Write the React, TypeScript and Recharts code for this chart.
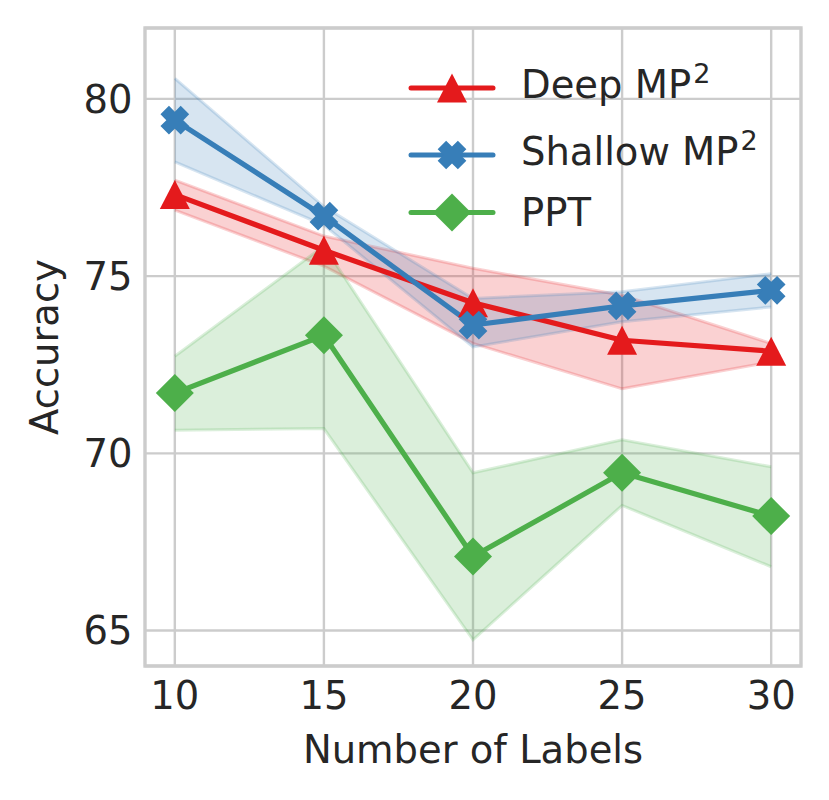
import {
  ComposedChart,
  Area,
  Line,
  XAxis,
  YAxis,
  CartesianGrid,
  ReferenceArea,
  Legend,
  Label,
} from "recharts";

// values
const labelCounts = [10, 15, 20, 25, 30];

const deepMean = [77.3, 75.73, 74.25, 73.19, 72.88];
const deepLow = [76.86, 75.28, 73.1, 71.82, 72.58];
const deepHigh = [77.71, 76.13, 75.22, 74.46, 73.1];

const shallowMean = [79.4, 76.69, 73.62, 74.16, 74.6];
const shallowLow = [78.22, 76.44, 73.0, 73.71, 74.13];
const shallowHigh = [80.58, 76.96, 74.37, 74.56, 75.07];

const pptMean = [71.7, 73.33, 67.09, 69.45, 68.23];
const pptLow = [70.65, 70.7, 64.74, 68.53, 66.8];
const pptHigh = [72.74, 75.85, 69.45, 70.38, 69.62];

const xTicks = [10, 15, 20, 25, 30];
const yTicks = [65, 70, 75, 80];
const xDomain = [9, 31];
const yDomain = [64, 82];

const seriesNames = ["Deep MP", "Shallow MP", "PPT"];
const seriesSups = ["2", "2", ""];

const RED = "#e41a1c";
const BLUE = "#377eb8";
const GREEN = "#4daf4a";
const GRID = "#cccccc";
const TEXT = "#262626";
const FONT = "DejaVu Sans";
const FS = 38.5;

const data = labelCounts.map((n, i) => ({
  n,
  deep: deepMean[i],
  deepBand: [deepLow[i], deepHigh[i]],
  shallow: shallowMean[i],
  shallowBand: [shallowLow[i], shallowHigh[i]],
  ppt: pptMean[i],
  pptBand: [pptLow[i], pptHigh[i]],
}));

function Triangle({ cx, cy, fill }: any) {
  const w = 15;
  const h = 14.5;
  return <path d={`M${cx},${cy - h}L${cx + w},${cy + h}L${cx - w},${cy + h}Z`} fill={fill} />;
}

function Cross({ cx, cy, fill }: any) {
  const w = 6;
  const L = 14.3;
  const pts = [
    [w, w], [w, L], [-w, L], [-w, w], [-L, w], [-L, -w],
    [-w, -w], [-w, -L], [w, -L], [w, -w], [L, -w], [L, w],
  ];
  const c = Math.SQRT1_2;
  const d =
    pts.map(([x, y], i) => `${i ? "L" : "M"}${cx + (x - y) * c},${cy + (x + y) * c}`).join("") + "Z";
  return <path d={d} fill={fill} />;
}

function Diamond({ cx, cy, fill }: any) {
  const r = 19;
  return <path d={`M${cx},${cy - r}L${cx + r},${cy}L${cx},${cy + r}L${cx - r},${cy}Z`} fill={fill} />;
}

const markers = [Triangle, Cross, Diamond];
const colors = [RED, BLUE, GREEN];

function LegendBox() {
  const lineY = [88, 155, 212.5];
  const baseY = [98.3, 164.7, 226];
  return (
    <svg width={829} height={260} style={{ display: "block" }}>
      {seriesNames.map((name, i) => {
        const M = markers[i];
        return (
          <g key={name}>
            <line
              x1={411}
              x2={493}
              y1={lineY[i]}
              y2={lineY[i]}
              stroke={colors[i]}
              strokeWidth={5}
              strokeLinecap="round"
            />
            <M cx={452} cy={lineY[i]} fill={colors[i]} />
            <text x={521} y={baseY[i]} fill={TEXT} fontFamily={FONT} fontSize={FS}>
              {name}
              {seriesSups[i] && (
                <tspan dx={2} dy={-15} fontSize={27}>
                  {seriesSups[i]}
                </tspan>
              )}
            </text>
          </g>
        );
      })}
    </svg>
  );
}

const lineProps = {
  type: "linear" as const,
  strokeWidth: 5.2,
  strokeLinecap: "round" as const,
  strokeLinejoin: "round" as const,
  isAnimationActive: false,
  activeDot: false,
};

const bandProps = {
  type: "linear" as const,
  fillOpacity: 0.2,
  strokeOpacity: 0.2,
  strokeWidth: 3,
  isAnimationActive: false,
  dot: false,
  activeDot: false,
};

export default function App() {
  const tick = { fontSize: FS, fill: TEXT, fontFamily: FONT };
  return (
    <div style={{ position: "absolute", left: 0, top: 0, background: "#fff" }}>
      <ComposedChart
        width={829}
        height={800}
        data={data}
        margin={{ top: 28, right: 28, bottom: 0, left: 0 }}
      >
        <CartesianGrid stroke={GRID} strokeWidth={2.4} />
        <XAxis
          dataKey="n"
          type="number"
          domain={xDomain}
          ticks={xTicks}
          interval={0}
          tickLine={false}
          axisLine={false}
          tickSize={0}
          tickMargin={16}
          tick={tick}
          height={134}
        >
          <Label
            value="Number of Labels"
            position="insideBottom"
            offset={36.7}
            fill={TEXT}
            fontSize={FS}
            fontFamily={FONT}
          />
        </XAxis>
        <YAxis
          type="number"
          domain={yDomain}
          ticks={yTicks}
          interval={0}
          tickLine={false}
          axisLine={false}
          tickSize={0}
          tickMargin={12.5}
          tick={tick}
          width={145}
        >
          <Label
            value="Accuracy"
            angle={-90}
            position="insideLeft"
            offset={44.6}
            fill={TEXT}
            fontSize={FS}
            fontFamily={FONT}
            style={{ textAnchor: "middle" }}
          />
        </YAxis>

        <Area dataKey="deepBand" fill={RED} stroke={RED} {...bandProps} />
        <Area dataKey="shallowBand" fill={BLUE} stroke={BLUE} {...bandProps} />
        <Area dataKey="pptBand" fill={GREEN} stroke={GREEN} {...bandProps} />

        <Line
          dataKey="deep"
          stroke={RED}
          {...lineProps}
          dot={(p: any) => <Triangle key={p.index} cx={p.cx} cy={p.cy} fill={RED} />}
        />
        <Line
          dataKey="shallow"
          stroke={BLUE}
          {...lineProps}
          dot={(p: any) => <Cross key={p.index} cx={p.cx} cy={p.cy} fill={BLUE} />}
        />
        <Line
          dataKey="ppt"
          stroke={GREEN}
          {...lineProps}
          dot={(p: any) => <Diamond key={p.index} cx={p.cx} cy={p.cy} fill={GREEN} />}
        />

        <ReferenceArea
          x1={xDomain[0]}
          x2={xDomain[1]}
          y1={yDomain[0]}
          y2={yDomain[1]}
          fill="none"
          stroke={GRID}
          strokeWidth={3.3}
          ifOverflow="visible"
        />

        <Legend
          layout="vertical"
          align="center"
          verticalAlign="middle"
          wrapperStyle={{ position: "absolute", left: 0, top: 0, width: 829, height: 260, pointerEvents: "none" }}
          content={() => <LegendBox />}
        />
      </ComposedChart>
    </div>
  );
}
